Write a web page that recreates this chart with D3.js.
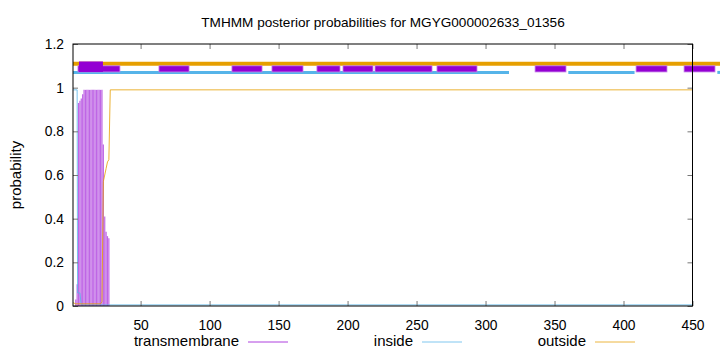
<!DOCTYPE html>
<html>
<head>
<meta charset="utf-8">
<script src="https://cdn.jsdelivr.net/npm/d3@7"></script>
<style>
  body { margin: 0; background: #fff; }
  svg { font-family: "Liberation Sans", Arial, sans-serif; }
</style>
</head>
<body>
<div id="visual"></div>
<script>
// posterior probabilities (residue, value)
const insidePts = [[1, 0.99], [4, 0.99], [4.3, 0.06], [6, 0.06], [7, 0.005], [450, 0.005]];
const outsidePts = [[1, 0.015], [3, 0.01], [21, 0.01], [22, 0.02], [23, 0.57], [24, 0.6], [25, 0.63],
    [26, 0.66], [27, 0.67], [28, 0.99], [450, 0.99]];
// transmembrane impulses, residues 3..27
const tmResidues = [3, 4, 5, 6, 7, 8, 9, 10, 11, 12, 13, 14, 15, 16, 17, 18, 19, 20, 21, 22, 23, 24, 25, 26, 27];
const tmProb = [0.03, 0.1, 0.93, 0.94, 0.95, 0.97, 0.99, 0.99, 0.99, 0.99, 0.99, 0.99, 0.99, 0.99,
    0.99, 0.99, 0.99, 0.99, 0.99, 0.99, 0.74, 0.41, 0.34, 0.32, 0.31];

// predicted topology drawn above the curves (start, end residue)
const outsideBars = [[1, 470]];
const insideBars = [[1, 317], [360, 408], [468, 472]];
const tmBoxes = [[4.6, 35], [63.3, 85.1], [116.2, 138], [145.2, 167.7], [177.8, 194.5], [196.7, 218.4],
    [219.9, 261.2], [264.8, 293.8], [335.9, 358.3], [409.1, 431.5], [443.9, 466.3]];
const tmBoxesHigh = [[5.3, 22.7]];

const xTicks = [50, 100, 150, 200, 250, 300, 350, 400, 450];
const yTicks = [0, 0.2, 0.4, 0.6, 0.8, 1, 1.2];
const legendItems = ["transmembrane", "inside", "outside"];
const legendColors = ["#9400d3", "#56b4e9", "#e69f00"];

const W = 720, H = 352;
const margin = { top: 44, right: 27.5, bottom: 46, left: 73 };

const svg = d3.select("#visual").append("svg")
    .attr("width", W)
    .attr("height", H);

const x = d3.scaleLinear().domain([1, 450]).range([margin.left, W - margin.right]);
const y = d3.scaleLinear().domain([0, 1.2]).range([H - margin.bottom, margin.top]);

// title
svg.append("text")
    .attr("x", 383)
    .attr("y", 27)
    .attr("text-anchor", "middle")
    .style("font-size", "13.6px")
    .text("TMHMM posterior probabilities for MGYG000002633_01356");

// transmembrane impulses
svg.append("g").selectAll("line")
    .data(tmResidues)
    .join("line")
    .attr("x1", d => x(d)).attr("x2", d => x(d))
    .attr("y1", y(0))
    .attr("y2", (d, i) => y(tmProb[i]))
    .attr("stroke", "#9400d3")
    .attr("stroke-opacity", 0.6)
    .attr("stroke-width", 1.2);

const line = d3.line().x(d => x(d[0])).y(d => y(d[1]));

svg.append("path")
    .datum(insidePts)
    .attr("fill", "none")
    .attr("stroke", "#56b4e9")
    .attr("stroke-opacity", 0.8)
    .attr("stroke-width", 1)
    .attr("d", line);

svg.append("path")
    .datum(outsidePts)
    .attr("fill", "none")
    .attr("stroke", "#e69f00")
    .attr("stroke-opacity", 0.8)
    .attr("stroke-width", 1)
    .attr("d", line);

// topology bars on top
svg.append("g").selectAll("line")
    .data(outsideBars)
    .join("line")
    .attr("x1", d => x(d[0])).attr("x2", d => x(d[1]))
    .attr("y1", y(1.109)).attr("y2", y(1.109))
    .attr("stroke", "#e69f00")
    .attr("stroke-width", 4);

svg.append("g").selectAll("line")
    .data(insideBars)
    .join("line")
    .attr("x1", d => x(d[0])).attr("x2", d => x(d[1]))
    .attr("y1", y(1.07)).attr("y2", y(1.07))
    .attr("stroke", "#56b4e9")
    .attr("stroke-width", 3);

svg.append("g").selectAll("rect")
    .data(tmBoxes)
    .join("rect")
    .attr("x", d => x(d[0]))
    .attr("width", d => x(d[1]) - x(d[0]))
    .attr("y", y(1.1))
    .attr("height", y(1.072) - y(1.1))
    .attr("fill", "#9400d3")
    .attr("stroke", "#c47ee8")
    .attr("stroke-width", 0.8);

svg.append("g").selectAll("rect")
    .data(tmBoxesHigh)
    .join("rect")
    .attr("x", d => x(d[0]))
    .attr("width", d => x(d[1]) - x(d[0]))
    .attr("y", y(1.12))
    .attr("height", y(1.072) - y(1.12))
    .attr("fill", "#9400d3");

// axes, ticks pointing inward
const axBottom = svg.append("g")
    .attr("transform", "translate(0," + y(0) + ")")
    .call(d3.axisBottom(x).tickValues(xTicks).tickSizeInner(-5).tickSizeOuter(0).tickPadding(14));
const axLeft = svg.append("g")
    .attr("transform", "translate(" + margin.left + ",0)")
    .call(d3.axisLeft(y).tickValues(yTicks).tickFormat(d3.format("~g")).tickSizeInner(-5).tickSizeOuter(0).tickPadding(9));
const axTop = svg.append("g")
    .attr("transform", "translate(0," + y(1.2) + ")")
    .call(d3.axisTop(x).tickValues(xTicks).tickFormat("").tickSizeInner(-5).tickSizeOuter(0));
const axRight = svg.append("g")
    .attr("transform", "translate(" + (W - margin.right) + ",0)")
    .call(d3.axisRight(y).tickValues(yTicks).tickFormat("").tickSizeInner(-5).tickSizeOuter(0));

[axBottom, axLeft, axTop, axRight].forEach(g => {
    g.select(".domain").remove();
    g.selectAll(".tick line").attr("stroke", "#777");
    g.selectAll("text")
        .attr("fill", "#000")
        .style("font-family", "Liberation Sans, Arial, sans-serif")
        .style("font-size", "13.8px");
});

// border
svg.append("rect")
    .attr("x", margin.left)
    .attr("y", margin.top)
    .attr("width", W - margin.right - margin.left)
    .attr("height", H - margin.bottom - margin.top)
    .attr("fill", "none")
    .attr("stroke", "#000")
    .attr("stroke-width", 1);

// y label
svg.append("text")
    .attr("transform", "translate(21," + ((margin.top + H - margin.bottom) / 2) + ") rotate(-90)")
    .attr("text-anchor", "middle")
    .style("font-size", "15px")
    .text("probability");

// legend
const legendTextRight = [239, 413, 586];
const legend = svg.append("g");
legendItems.forEach((name, i) => {
    legend.append("text")
        .attr("x", legendTextRight[i])
        .attr("y", 346)
        .attr("text-anchor", "end")
        .style("font-size", "15px")
        .text(name);
    legend.append("line")
        .attr("x1", legendTextRight[i] + 9)
        .attr("x2", legendTextRight[i] + 49)
        .attr("y1", 342).attr("y2", 342)
        .attr("stroke", legendColors[i])
        .attr("stroke-opacity", 0.75)
        .attr("stroke-width", 1);
});
</script>
</body>
</html>
